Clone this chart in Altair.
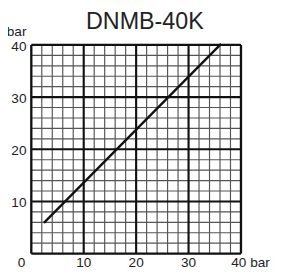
import altair as alt
import pandas as pd

title_text = "DNMB-40K"
unit = "bar"
minor_ticks = [v for v in range(2, 40, 2) if v % 10 != 0]
major_ticks = [10, 20, 30]
border_ticks = [0, 40]
y_labels = [10, 20, 30, 40]
x_labels = [10, 20, 30]
line_x = [2.4, 36.2]
line_y = [5.9, 40.2]

W, H = 216, 215
xs = alt.Scale(domain=[0, 40], nice=False, zero=False)
ys = alt.Scale(domain=[0, 40], nice=False, zero=False)

FONT = "Liberation Sans"
TXT = "#222222"

X = lambda f: alt.X(f, type="quantitative", scale=xs, axis=None)
Y = lambda f: alt.Y(f, type="quantitative", scale=ys, axis=None)


def vrules(vals, color, width):
    df = pd.DataFrame({"v": vals, "a": [0] * len(vals), "b": [40] * len(vals)})
    return alt.Chart(df).mark_rule(color=color, strokeWidth=width).encode(
        x=X("v"), y=Y("a"), y2="b")


def hrules(vals, color, width):
    df = pd.DataFrame({"v": vals, "a": [0] * len(vals), "b": [40] * len(vals)})
    return alt.Chart(df).mark_rule(color=color, strokeWidth=width).encode(
        y=Y("v"), x=X("a"), x2="b")


def text_layer(xv, yv, texts, **kw):
    df = pd.DataFrame({"x": xv, "y": yv, "t": texts})
    return alt.Chart(df).mark_text(font=FONT, color=TXT, **kw).encode(
        x=X("x"), y=Y("y"), text="t:N")


layers = [
    vrules(minor_ticks, "#555555", 1.2), hrules(minor_ticks, "#555555", 1.2),
    vrules(major_ticks, "#111111", 2.2), hrules(major_ticks, "#111111", 2.2),
    vrules(border_ticks, "#111111", 2.4), hrules(border_ticks, "#111111", 2.4),
]

line = alt.Chart(pd.DataFrame({"x": line_x, "y": line_y})).mark_line(
    color="#111111", strokeWidth=2.4).encode(x=X("x"), y=Y("y"))

ylab = text_layer([0] * len(y_labels), y_labels, [str(v) for v in y_labels],
                  align="right", baseline="middle", dx=-5, dy=2, fontSize=14)
xlab = text_layer(x_labels, [0] * len(x_labels), [str(v) for v in x_labels],
                  align="center", baseline="middle", dy=10, fontSize=14)
zero_lab = text_layer([0], [0], ["0"], align="center", baseline="middle",
                      dx=-10, dy=10, fontSize=14)
end_lab = text_layer([40], [0], ["40 " + unit], align="left", baseline="middle",
                     dx=-10, dy=10, fontSize=14)
y_unit = text_layer([0], [40], [unit], align="right", baseline="alphabetic",
                    dx=-5, dy=-9, fontSize=14)
title = text_layer([20], [40], [title_text], align="center", baseline="alphabetic",
                   dx=9, dy=-16, fontSize=24)

chart = alt.layer(*layers, line, ylab, xlab, zero_lab, end_lab, y_unit, title).properties(
    width=W, height=H,
    background="white",
    autosize=alt.AutoSizeParams(type="none"),
    padding={"left": 24, "top": 34, "right": 33, "bottom": 19},
).configure_view(stroke=None)

chart.save("out.html", embed_options={"renderer": "svg", "actions": False})
